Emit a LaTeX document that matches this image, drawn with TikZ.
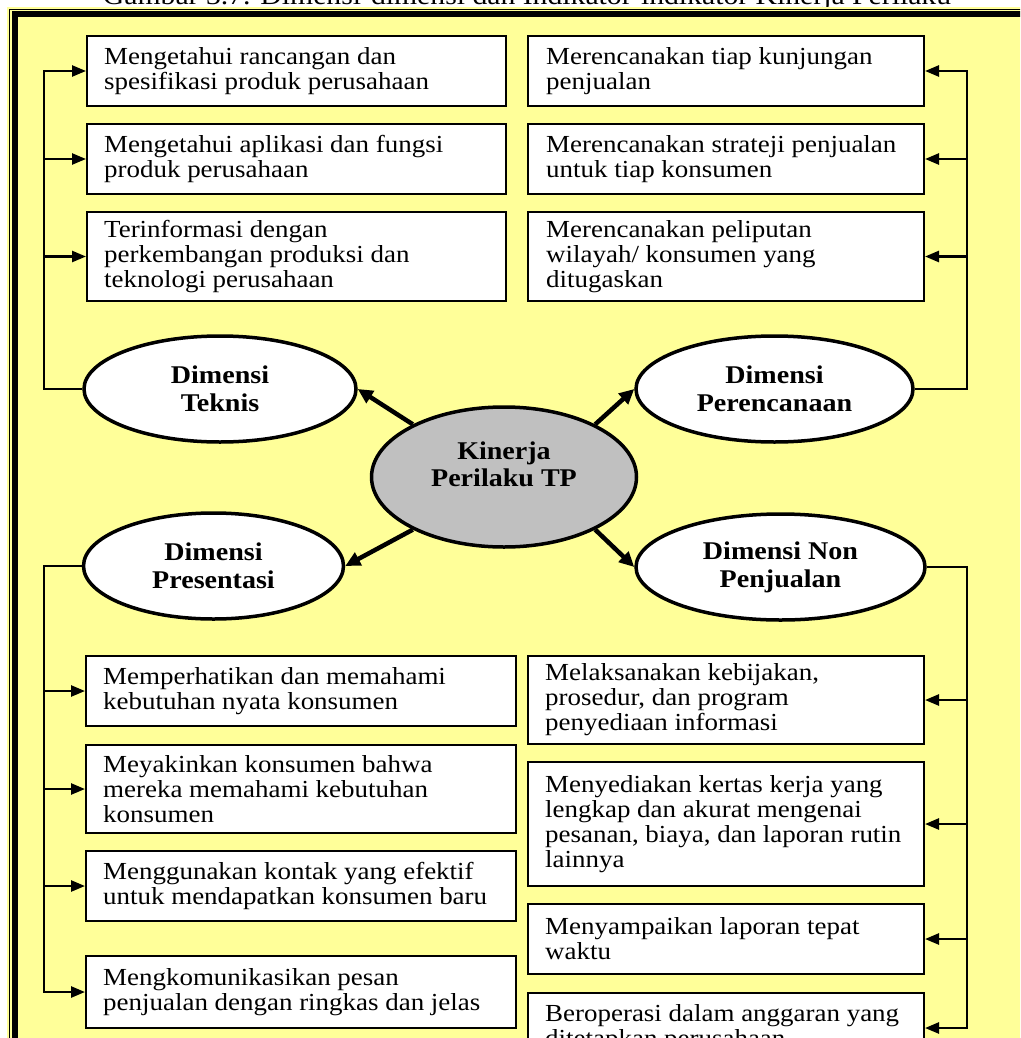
\documentclass[tikz,border=0pt]{standalone}
\usepackage{fontspec}
\setmainfont{Liberation Serif}[FakeStretch=1.1]
\usetikzlibrary{shapes.geometric,arrows.meta}
\definecolor{paper}{HTML}{FFFF99}
\definecolor{hub}{HTML}{C0C0C0}
\begin{document}
\begin{tikzpicture}[x=1pt,y=-1pt,
  box/.style={rectangle, draw=black, line width=2pt, fill=white, inner sep=0pt, anchor=north west},
  txt/.style={anchor=west, inner sep=0pt, align=left, font=\fontsize{24.5}{25}\selectfont},
  dim/.style={ellipse, draw=black, line width=3.5pt, fill=white, inner sep=0pt,
    minimum height=106pt, align=center, font=\fontsize{25.5}{28}\selectfont\bfseries},
  rail/.style={draw=black, line width=2.5pt, -{Triangle[length=14pt,width=11pt]}},
  spoke/.style={draw=black, line width=4.5pt, -{Triangle[length=15pt,width=14pt]}}
]
\useasboundingbox (0,0) rectangle (1020,1038);
\clip (0,0) rectangle (1020,1038);

% caption above the frame
\node[anchor=base, inner sep=0pt, font=\fontsize{27}{27}\selectfont] (title) at (527,5)
  {Gambar 3.7. Dimensi-dimensi dan Indikator-indikator Kinerja Perilaku};

% yellow panel with a double frame
\fill[paper] (7,7) rectangle (1040,1060);
\draw[line width=1.5pt] (9.5,9.5) rectangle (1045,1065);
\draw[line width=6pt] (15,14.5) rectangle (1050,1070);

% indicator boxes, upper left
\node[box, minimum width=419pt, minimum height=70pt] (l1) at (86,35) {};
\node[box, minimum width=419pt, minimum height=70pt] (l2) at (86,123) {};
\node[box, minimum width=419pt, minimum height=89pt] (l3) at (86,211) {};
% upper right
\node[box, minimum width=396pt, minimum height=70pt] (r1) at (527,35) {};
\node[box, minimum width=396pt, minimum height=70pt] (r2) at (527,123) {};
\node[box, minimum width=396pt, minimum height=89pt] (r3) at (527,211) {};
% lower left
\node[box, minimum width=430pt, minimum height=70pt] (lb1) at (85,655) {};
\node[box, minimum width=430pt, minimum height=88pt] (lb2) at (85,744) {};
\node[box, minimum width=430pt, minimum height=70pt] (lb3) at (85,850) {};
\node[box, minimum width=430pt, minimum height=72pt] (lb4) at (85,955) {};
% lower right
\node[box, minimum width=396pt, minimum height=88pt] (rb1) at (527,655) {};
\node[box, minimum width=396pt, minimum height=124pt] (rb2) at (527,761) {};
\node[box, minimum width=396pt, minimum height=70pt] (rb3) at (527,903) {};
\node[box, minimum width=396pt, minimum height=70pt] (rb4) at (527,992) {};

% box texts
\node[txt] (l1t) at ([xshift=18pt]l1.west) {Mengetahui rancangan dan\\spesifikasi produk perusahaan};
\node[txt] (l2t) at ([xshift=18pt]l2.west) {Mengetahui aplikasi dan fungsi\\produk perusahaan};
\node[txt] (l3t) at ([xshift=18pt]l3.west) {Terinformasi dengan\\perkembangan produksi dan\\teknologi perusahaan};
\node[txt] (r1t) at ([xshift=19pt]r1.west) {Merencanakan tiap kunjungan\\penjualan};
\node[txt] (r2t) at ([xshift=19pt]r2.west) {Merencanakan strateji penjualan\\untuk tiap konsumen};
\node[txt] (r3t) at ([xshift=19pt]r3.west) {Merencanakan peliputan\\wilayah/ konsumen yang\\ditugaskan};
\node[txt] (lb1t) at ([xshift=18pt]lb1.west) {Memperhatikan dan memahami\\kebutuhan nyata konsumen};
\node[txt] (lb2t) at ([xshift=18pt]lb2.west) {Meyakinkan konsumen bahwa\\mereka memahami kebutuhan\\konsumen};
\node[txt] (lb3t) at ([xshift=18pt]lb3.west) {Menggunakan kontak yang efektif\\untuk mendapatkan konsumen baru};
\node[txt] (lb4t) at ([xshift=18pt]lb4.west) {Mengkomunikasikan pesan\\penjualan dengan ringkas dan jelas};
\node[txt] (rb1t) at ([xshift=18pt]rb1.west) {Melaksanakan kebijakan,\\prosedur, dan program\\penyediaan informasi};
\node[txt] (rb2t) at ([xshift=18pt]rb2.west) {Menyediakan kertas kerja yang\\lengkap dan akurat mengenai\\pesanan, biaya, dan laporan rutin\\lainnya};
\node[txt] (rb3t) at ([xshift=18pt]rb3.west) {Menyampaikan laporan tepat\\waktu};
\node[txt] (rb4t) at ([xshift=18pt]rb4.west) {Beroperasi dalam anggaran yang\\ditetapkan perusahaan};

% dimension ellipses
\node[dim, minimum width=272pt] (tek) at (220,389) {Dimensi\\Teknis};
\node[dim, minimum width=277pt] (per) at (774.5,389) {Dimensi\\Perencanaan};
\node[dim, minimum width=260pt] (pre) at (213.5,566) {Dimensi\\Presentasi};
\node[dim, minimum width=289pt] (np) at (780.5,567) {Dimensi Non\\Penjualan};

% central ellipse
\node[dim, fill=hub, minimum width=265pt, minimum height=140pt] (kin) at (504,477) {};
\node[inner sep=0pt, align=center, font=\fontsize{25.5}{27}\selectfont\bfseries] (kint) at (504,464) {Kinerja\\Perilaku TP};

% spokes from the centre
\draw[spoke] (kin.150) -- (tek.east);
\draw[spoke] (kin.30) -- (per.west);
\draw[spoke] (kin.210) -- (pre.east);
\draw[spoke] (kin.330) -- (np.west);

% rails
\coordinate (lr) at (44,0);
\coordinate (rr) at (967,0);

\draw[rail] (tek.west) -| (lr |- l1.west) -- (l1.west);
\draw[rail] (lr |- l2.west) -- (l2.west);
\draw[rail] (lr |- l3.west) -- (l3.west);

\draw[rail] (per.east) -| (rr |- r1.east) -- (r1.east);
\draw[rail] (rr |- r2.east) -- (r2.east);
\draw[rail] (rr |- r3.east) -- (r3.east);

\draw[rail] (pre.west) -| (lr |- lb4.west) -- (lb4.west);
\draw[rail] (lr |- lb1.west) -- (lb1.west);
\draw[rail] (lr |- lb2.west) -- (lb2.west);
\draw[rail] (lr |- lb3.west) -- (lb3.west);

\draw[rail] (np.east) -| (rr |- rb4.east) -- (rb4.east);
\draw[rail] (rr |- rb1.east) -- (rb1.east);
\draw[rail] (rr |- rb2.east) -- (rb2.east);
\draw[rail] (rr |- rb3.east) -- (rb3.east);
\end{tikzpicture}
\end{document}
